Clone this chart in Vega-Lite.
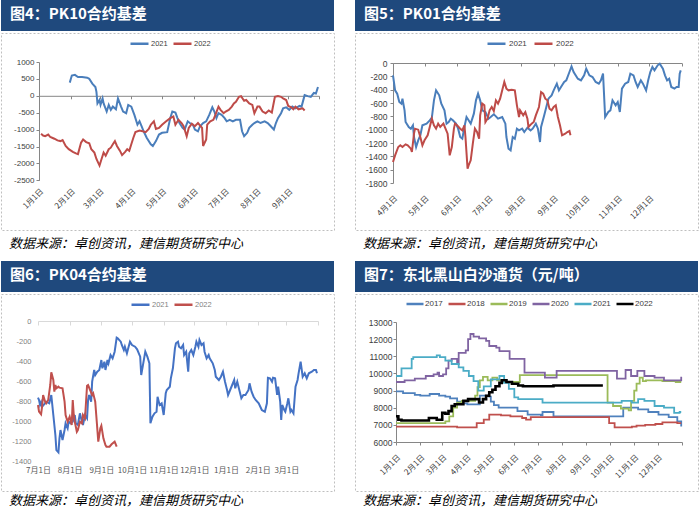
{
"$schema": "https://vega.github.io/schema/vega-lite/v6.json",
"padding": 0,
"background": "#FFFFFF",
"config": {"view": {"stroke": null}, "font": "Noto Sans CJK SC"},
"spacing": 9,
"resolve": {"scale": {"color": "independent"}, "legend": {"color": "independent"}},
"vconcat": [
{
"hconcat": [
{
"spacing": 1,
"resolve": {"scale": {"color": "independent"}, "legend": {"color": "independent"}},
"vconcat": [
{
"width": 333, "height": 31,
"view": {"stroke": null, "fill": "#1F497D"},
"data": {"values": [{"t": 1}]},
"mark": {"type": "rect", "color": "#1F497D"},
"encoding": {},
"title": {"text": "图4：PK10合约基差", "orient": "top", "anchor": "start", "frame": "group", "offset": -22, "dx": 9, "baseline": "top", "color": "#FFFFFF", "fontSize": 15, "fontWeight": "bold", "font": "Noto Sans CJK SC"}
},
{
"width": 333, "height": 197,
"view": {"stroke": "#BFBFBF", "strokeDash": [2, 2], "strokeWidth": 1},
"title": {"text": "数据来源：卓创资讯，建信期货研究中心", "orient": "bottom", "anchor": "start", "frame": "group", "offset": 8, "dx": 8, "baseline": "top", "fontSize": 13, "fontStyle": "italic", "fontWeight": "normal", "color": "#000000", "font": "Noto Sans CJK SC"},
"data": {"values": [
{"d":"2021-01-31","v":390,"s":"2021"},{"d":"2021-02-02","v":600,"s":"2021"},{"d":"2021-02-05","v":620,"s":"2021"},{"d":"2021-02-08","v":555,"s":"2021"},{"d":"2021-02-12","v":555,"s":"2021"},{"d":"2021-02-17","v":535,"s":"2021"},{"d":"2021-02-19","v":505,"s":"2021"},{"d":"2021-02-22","v":360,"s":"2021"},{"d":"2021-02-25","v":260,"s":"2021"},{"d":"2021-02-26","v":115,"s":"2021"},{"d":"2021-02-27","v":-225,"s":"2021"},{"d":"2021-03-01","v":-125,"s":"2021"},{"d":"2021-03-02","v":-270,"s":"2021"},{"d":"2021-03-04","v":-80,"s":"2021"},{"d":"2021-03-05","v":-225,"s":"2021"},{"d":"2021-03-08","v":-465,"s":"2021"},{"d":"2021-03-10","v":-270,"s":"2021"},{"d":"2021-03-12","v":-415,"s":"2021"},{"d":"2021-03-14","v":-320,"s":"2021"},{"d":"2021-03-17","v":-400,"s":"2021"},{"d":"2021-03-19","v":-80,"s":"2021"},{"d":"2021-03-22","v":-320,"s":"2021"},{"d":"2021-03-24","v":-465,"s":"2021"},{"d":"2021-03-27","v":-515,"s":"2021"},{"d":"2021-03-29","v":-270,"s":"2021"},{"d":"2021-04-01","v":-320,"s":"2021"},{"d":"2021-04-04","v":-565,"s":"2021"},{"d":"2021-04-07","v":-855,"s":"2021"},{"d":"2021-04-09","v":-755,"s":"2021"},{"d":"2021-04-11","v":-900,"s":"2021"},{"d":"2021-04-13","v":-1050,"s":"2021"},{"d":"2021-04-16","v":-1240,"s":"2021"},{"d":"2021-04-20","v":-1435,"s":"2021"},{"d":"2021-04-22","v":-1485,"s":"2021"},{"d":"2021-04-25","v":-1340,"s":"2021"},{"d":"2021-04-28","v":-1145,"s":"2021"},{"d":"2021-05-01","v":-1095,"s":"2021"},{"d":"2021-05-06","v":-1075,"s":"2021"},{"d":"2021-05-09","v":-660,"s":"2021"},{"d":"2021-05-11","v":-465,"s":"2021"},{"d":"2021-05-14","v":-495,"s":"2021"},{"d":"2021-05-16","v":-660,"s":"2021"},{"d":"2021-05-18","v":-805,"s":"2021"},{"d":"2021-05-21","v":-950,"s":"2021"},{"d":"2021-05-23","v":-1000,"s":"2021"},{"d":"2021-05-26","v":-755,"s":"2021"},{"d":"2021-05-28","v":-805,"s":"2021"},{"d":"2021-05-31","v":-855,"s":"2021"},{"d":"2021-06-02","v":-1000,"s":"2021"},{"d":"2021-06-05","v":-1050,"s":"2021"},{"d":"2021-06-07","v":-900,"s":"2021"},{"d":"2021-06-10","v":-805,"s":"2021"},{"d":"2021-06-13","v":-755,"s":"2021"},{"d":"2021-06-16","v":-565,"s":"2021"},{"d":"2021-06-19","v":-340,"s":"2021"},{"d":"2021-06-21","v":-465,"s":"2021"},{"d":"2021-06-23","v":-660,"s":"2021"},{"d":"2021-06-25","v":-515,"s":"2021"},{"d":"2021-06-28","v":-565,"s":"2021"},{"d":"2021-07-01","v":-660,"s":"2021"},{"d":"2021-07-03","v":-755,"s":"2021"},{"d":"2021-07-06","v":-710,"s":"2021"},{"d":"2021-07-09","v":-755,"s":"2021"},{"d":"2021-07-12","v":-710,"s":"2021"},{"d":"2021-07-16","v":-710,"s":"2021"},{"d":"2021-07-18","v":-1050,"s":"2021"},{"d":"2021-07-20","v":-1195,"s":"2021"},{"d":"2021-07-23","v":-1095,"s":"2021"},{"d":"2021-07-25","v":-950,"s":"2021"},{"d":"2021-07-28","v":-855,"s":"2021"},{"d":"2021-07-30","v":-805,"s":"2021"},{"d":"2021-08-02","v":-755,"s":"2021"},{"d":"2021-08-05","v":-805,"s":"2021"},{"d":"2021-08-09","v":-755,"s":"2021"},{"d":"2021-08-12","v":-805,"s":"2021"},{"d":"2021-08-15","v":-900,"s":"2021"},{"d":"2021-08-18","v":-1000,"s":"2021"},{"d":"2021-08-20","v":-805,"s":"2021"},{"d":"2021-08-22","v":-660,"s":"2021"},{"d":"2021-08-25","v":-515,"s":"2021"},{"d":"2021-08-27","v":-370,"s":"2021"},{"d":"2021-08-30","v":-340,"s":"2021"},{"d":"2021-09-02","v":-415,"s":"2021"},{"d":"2021-09-05","v":-320,"s":"2021"},{"d":"2021-09-08","v":-370,"s":"2021"},{"d":"2021-09-12","v":-300,"s":"2021"},{"d":"2021-09-14","v":-320,"s":"2021"},{"d":"2021-09-17","v":20,"s":"2021"},{"d":"2021-09-20","v":-10,"s":"2021"},{"d":"2021-09-23","v":-30,"s":"2021"},{"d":"2021-09-26","v":85,"s":"2021"},{"d":"2021-09-28","v":70,"s":"2021"},{"d":"2021-09-30","v":260,"s":"2021"},
{"d":"2021-01-03","v":-1125,"s":"2022"},{"d":"2021-01-05","v":-1175,"s":"2022"},{"d":"2021-01-07","v":-1195,"s":"2022"},{"d":"2021-01-10","v":-1145,"s":"2022"},{"d":"2021-01-12","v":-1220,"s":"2022"},{"d":"2021-01-16","v":-1270,"s":"2022"},{"d":"2021-01-19","v":-1320,"s":"2022"},{"d":"2021-01-22","v":-1340,"s":"2022"},{"d":"2021-01-24","v":-1310,"s":"2022"},{"d":"2021-01-27","v":-1485,"s":"2022"},{"d":"2021-01-30","v":-1580,"s":"2022"},{"d":"2021-02-03","v":-1660,"s":"2022"},{"d":"2021-02-06","v":-1705,"s":"2022"},{"d":"2021-02-08","v":-1725,"s":"2022"},{"d":"2021-02-11","v":-1385,"s":"2022"},{"d":"2021-02-13","v":-1290,"s":"2022"},{"d":"2021-02-16","v":-1370,"s":"2022"},{"d":"2021-02-19","v":-1405,"s":"2022"},{"d":"2021-02-21","v":-1580,"s":"2022"},{"d":"2021-02-24","v":-1680,"s":"2022"},{"d":"2021-02-26","v":-1870,"s":"2022"},{"d":"2021-03-01","v":-2065,"s":"2022"},{"d":"2021-03-03","v":-1870,"s":"2022"},{"d":"2021-03-05","v":-1680,"s":"2022"},{"d":"2021-03-07","v":-1775,"s":"2022"},{"d":"2021-03-10","v":-1580,"s":"2022"},{"d":"2021-03-12","v":-1535,"s":"2022"},{"d":"2021-03-14","v":-1435,"s":"2022"},{"d":"2021-03-16","v":-1340,"s":"2022"},{"d":"2021-03-18","v":-1485,"s":"2022"},{"d":"2021-03-21","v":-1630,"s":"2022"},{"d":"2021-03-23","v":-1755,"s":"2022"},{"d":"2021-03-26","v":-1660,"s":"2022"},{"d":"2021-03-28","v":-1580,"s":"2022"},{"d":"2021-03-30","v":-1630,"s":"2022"},{"d":"2021-04-01","v":-1435,"s":"2022"},{"d":"2021-04-03","v":-1240,"s":"2022"},{"d":"2021-04-05","v":-1075,"s":"2022"},{"d":"2021-04-09","v":-1030,"s":"2022"},{"d":"2021-04-12","v":-1050,"s":"2022"},{"d":"2021-04-15","v":-1075,"s":"2022"},{"d":"2021-04-18","v":-980,"s":"2022"},{"d":"2021-04-20","v":-855,"s":"2022"},{"d":"2021-04-23","v":-755,"s":"2022"},{"d":"2021-04-25","v":-980,"s":"2022"},{"d":"2021-04-28","v":-950,"s":"2022"},{"d":"2021-05-01","v":-855,"s":"2022"},{"d":"2021-05-05","v":-755,"s":"2022"},{"d":"2021-05-09","v":-660,"s":"2022"},{"d":"2021-05-12","v":-610,"s":"2022"},{"d":"2021-05-14","v":-855,"s":"2022"},{"d":"2021-05-17","v":-710,"s":"2022"},{"d":"2021-05-20","v":-805,"s":"2022"},{"d":"2021-05-22","v":-900,"s":"2022"},{"d":"2021-05-25","v":-1195,"s":"2022"},{"d":"2021-05-27","v":-950,"s":"2022"},{"d":"2021-05-30","v":-825,"s":"2022"},{"d":"2021-06-02","v":-900,"s":"2022"},{"d":"2021-06-05","v":-805,"s":"2022"},{"d":"2021-06-09","v":-950,"s":"2022"},{"d":"2021-06-10","v":-1485,"s":"2022"},{"d":"2021-06-13","v":-1290,"s":"2022"},{"d":"2021-06-14","v":-855,"s":"2022"},{"d":"2021-06-17","v":-755,"s":"2022"},{"d":"2021-06-20","v":-710,"s":"2022"},{"d":"2021-06-22","v":-565,"s":"2022"},{"d":"2021-06-25","v":-320,"s":"2022"},{"d":"2021-06-27","v":-415,"s":"2022"},{"d":"2021-06-30","v":-515,"s":"2022"},{"d":"2021-07-02","v":-465,"s":"2022"},{"d":"2021-07-05","v":-415,"s":"2022"},{"d":"2021-07-08","v":-320,"s":"2022"},{"d":"2021-07-10","v":-225,"s":"2022"},{"d":"2021-07-12","v":-175,"s":"2022"},{"d":"2021-07-15","v":-30,"s":"2022"},{"d":"2021-07-17","v":-10,"s":"2022"},{"d":"2021-07-20","v":-145,"s":"2022"},{"d":"2021-07-22","v":-125,"s":"2022"},{"d":"2021-07-25","v":-225,"s":"2022"},{"d":"2021-07-28","v":-270,"s":"2022"},{"d":"2021-07-30","v":-515,"s":"2022"},{"d":"2021-08-02","v":-320,"s":"2022"},{"d":"2021-08-04","v":-320,"s":"2022"},{"d":"2021-08-07","v":-465,"s":"2022"},{"d":"2021-08-10","v":-515,"s":"2022"},{"d":"2021-08-13","v":-435,"s":"2022"},{"d":"2021-08-16","v":-495,"s":"2022"},{"d":"2021-08-19","v":-30,"s":"2022"},{"d":"2021-08-22","v":-10,"s":"2022"},{"d":"2021-08-25","v":-30,"s":"2022"},{"d":"2021-08-27","v":-80,"s":"2022"},{"d":"2021-08-30","v":-125,"s":"2022"},{"d":"2021-09-01","v":-300,"s":"2022"},{"d":"2021-09-04","v":-340,"s":"2022"},{"d":"2021-09-06","v":-400,"s":"2022"},{"d":"2021-09-08","v":-320,"s":"2022"},{"d":"2021-09-11","v":-400,"s":"2022"},{"d":"2021-09-15","v":-370,"s":"2022"},{"d":"2021-09-17","v":-435,"s":"2022"}
]},
"mark": {"type": "line", "strokeWidth": 2},
"encoding": {
"x": {"field": "d", "type": "temporal",
 "scale": {"type": "utc", "nice": false, "domain": [{"year": 2021, "month": 1, "date": 1, "utc": true}, {"year": 2021, "month": 10, "date": 1, "utc": true}], "range": [38, 318]},
 "axis": {"orient": "bottom", "offset": -134.2, "title": null, "grid": false,
  "values": [{"year":2021,"month":1,"date":1,"utc":true},{"year":2021,"month":2,"date":1,"utc":true},{"year":2021,"month":3,"date":1,"utc":true},{"year":2021,"month":4,"date":1,"utc":true},{"year":2021,"month":5,"date":1,"utc":true},{"year":2021,"month":6,"date":1,"utc":true},{"year":2021,"month":7,"date":1,"utc":true},{"year":2021,"month":8,"date":1,"utc":true},{"year":2021,"month":9,"date":1,"utc":true},{"year":2021,"month":10,"date":1,"utc":true}],
  "labelExpr": "utcmonth(datum.value) == 9 ? '' : (utcmonth(datum.value) + 1) + '月' + utcdate(datum.value) + '日'",
  "labelAngle": -45, "labelAlign": "right", "labelBaseline": "middle", "labelPadding": 91, "labelOffset": 3,
  "labelFont": "Noto Sans CJK SC", "labelFontSize": 8, "labelColor": "#404040",
  "labelOverlap": false, "labelFlush": false, "labelBound": false,
  "domainColor": "#868686", "tickColor": "#868686", "tickSize": 3}},
"y": {"field": "v", "type": "quantitative",
 "scale": {"domain": [-2500, 1000], "range": [147.3, 29], "nice": false, "zero": false},
 "axis": {"orient": "left", "offset": -38, "title": null, "grid": false, "values": [1000, 500, 0, -500, -1000, -1500, -2000, -2500],
  "labelExpr": "'' + datum.value",
  "labelFont": "Liberation Sans", "labelFontSize": 8, "labelColor": "#404040", "labelPadding": 2,
  "domainColor": "#868686", "tickColor": "#868686", "tickSize": 3}},
"color": {"field": "s", "type": "nominal",
 "scale": {"domain": ["2021", "2022"], "range": ["#4A7EBB", "#BE4B48"]},
 "legend": {"orient": "none", "legendX": 128, "legendY": 0, "direction": "horizontal", "title": null,
  "labelFont": "Liberation Sans", "labelFontSize": 7.5, "labelColor": "#404040", "symbolType": "stroke", "symbolSize": 324, "symbolStrokeWidth": 2.5, "labelOffset": 1, "columnPadding": 0}}
}
}
]
},
{
"spacing": 1,
"resolve": {"scale": {"color": "independent"}, "legend": {"color": "independent"}},
"vconcat": [
{
"width": 343, "height": 31,
"view": {"stroke": null, "fill": "#1F497D"},
"data": {"values": [{"t": 1}]},
"mark": {"type": "rect", "color": "#1F497D"},
"encoding": {},
"title": {"text": "图5：PK01合约基差", "orient": "top", "anchor": "start", "frame": "group", "offset": -22, "dx": 9, "baseline": "top", "color": "#FFFFFF", "fontSize": 15, "fontWeight": "bold", "font": "Noto Sans CJK SC"}
},
{
"width": 343, "height": 197,
"view": {"stroke": "#BFBFBF", "strokeDash": [2, 2], "strokeWidth": 1},
"title": {"text": "数据来源：卓创资讯，建信期货研究中心", "orient": "bottom", "anchor": "start", "frame": "group", "offset": 8, "dx": 8, "baseline": "top", "fontSize": 13, "fontStyle": "italic", "fontWeight": "normal", "color": "#000000", "font": "Noto Sans CJK SC"},
"data": {"values": [
{"d":"2021-04-01","v":-185,"s":"2021"},{"d":"2021-04-03","v":-410,"s":"2021"},{"d":"2021-04-05","v":-460,"s":"2021"},{"d":"2021-04-07","v":-585,"s":"2021"},{"d":"2021-04-09","v":-610,"s":"2021"},{"d":"2021-04-10","v":-535,"s":"2021"},{"d":"2021-04-12","v":-710,"s":"2021"},{"d":"2021-04-13","v":-885,"s":"2021"},{"d":"2021-04-16","v":-960,"s":"2021"},{"d":"2021-04-18","v":-985,"s":"2021"},{"d":"2021-04-20","v":-935,"s":"2021"},{"d":"2021-04-21","v":-1110,"s":"2021"},{"d":"2021-04-23","v":-1260,"s":"2021"},{"d":"2021-04-25","v":-1160,"s":"2021"},{"d":"2021-04-27","v":-1085,"s":"2021"},{"d":"2021-04-29","v":-935,"s":"2021"},{"d":"2021-05-03","v":-910,"s":"2021"},{"d":"2021-05-06","v":-860,"s":"2021"},{"d":"2021-05-08","v":-820,"s":"2021"},{"d":"2021-05-10","v":-560,"s":"2021"},{"d":"2021-05-12","v":-410,"s":"2021"},{"d":"2021-05-15","v":-485,"s":"2021"},{"d":"2021-05-17","v":-610,"s":"2021"},{"d":"2021-05-20","v":-710,"s":"2021"},{"d":"2021-05-22","v":-910,"s":"2021"},{"d":"2021-05-24","v":-885,"s":"2021"},{"d":"2021-05-26","v":-835,"s":"2021"},{"d":"2021-05-28","v":-860,"s":"2021"},{"d":"2021-05-31","v":-910,"s":"2021"},{"d":"2021-06-02","v":-985,"s":"2021"},{"d":"2021-06-04","v":-1110,"s":"2021"},{"d":"2021-06-06","v":-1135,"s":"2021"},{"d":"2021-06-08","v":-960,"s":"2021"},{"d":"2021-06-10","v":-810,"s":"2021"},{"d":"2021-06-12","v":-860,"s":"2021"},{"d":"2021-06-14","v":-910,"s":"2021"},{"d":"2021-06-17","v":-760,"s":"2021"},{"d":"2021-06-19","v":-560,"s":"2021"},{"d":"2021-06-21","v":-460,"s":"2021"},{"d":"2021-06-23","v":-560,"s":"2021"},{"d":"2021-06-25","v":-710,"s":"2021"},{"d":"2021-06-28","v":-735,"s":"2021"},{"d":"2021-07-01","v":-835,"s":"2021"},{"d":"2021-07-03","v":-810,"s":"2021"},{"d":"2021-07-06","v":-770,"s":"2021"},{"d":"2021-07-08","v":-800,"s":"2021"},{"d":"2021-07-10","v":-835,"s":"2021"},{"d":"2021-07-14","v":-810,"s":"2021"},{"d":"2021-07-17","v":-910,"s":"2021"},{"d":"2021-07-18","v":-1110,"s":"2021"},{"d":"2021-07-20","v":-1285,"s":"2021"},{"d":"2021-07-22","v":-1310,"s":"2021"},{"d":"2021-07-24","v":-1110,"s":"2021"},{"d":"2021-07-26","v":-1135,"s":"2021"},{"d":"2021-07-28","v":-985,"s":"2021"},{"d":"2021-07-30","v":-1010,"s":"2021"},{"d":"2021-08-02","v":-985,"s":"2021"},{"d":"2021-08-04","v":-1035,"s":"2021"},{"d":"2021-08-07","v":-970,"s":"2021"},{"d":"2021-08-10","v":-1010,"s":"2021"},{"d":"2021-08-12","v":-985,"s":"2021"},{"d":"2021-08-15","v":-910,"s":"2021"},{"d":"2021-08-17","v":-985,"s":"2021"},{"d":"2021-08-19","v":-1185,"s":"2021"},{"d":"2021-08-20","v":-960,"s":"2021"},{"d":"2021-08-23","v":-785,"s":"2021"},{"d":"2021-08-25","v":-660,"s":"2021"},{"d":"2021-08-27","v":-535,"s":"2021"},{"d":"2021-08-30","v":-485,"s":"2021"},{"d":"2021-09-01","v":-410,"s":"2021"},{"d":"2021-09-04","v":-310,"s":"2021"},{"d":"2021-09-06","v":-410,"s":"2021"},{"d":"2021-09-09","v":-335,"s":"2021"},{"d":"2021-09-11","v":-285,"s":"2021"},{"d":"2021-09-13","v":-260,"s":"2021"},{"d":"2021-09-16","v":-135,"s":"2021"},{"d":"2021-09-18","v":-50,"s":"2021"},{"d":"2021-09-20","v":-135,"s":"2021"},{"d":"2021-09-24","v":-235,"s":"2021"},{"d":"2021-09-27","v":-260,"s":"2021"},{"d":"2021-09-30","v":-185,"s":"2021"},{"d":"2021-10-02","v":-85,"s":"2021"},{"d":"2021-10-05","v":-185,"s":"2021"},{"d":"2021-10-08","v":-210,"s":"2021"},{"d":"2021-10-11","v":-285,"s":"2021"},{"d":"2021-10-14","v":-310,"s":"2021"},{"d":"2021-10-16","v":-260,"s":"2021"},{"d":"2021-10-18","v":-160,"s":"2021"},{"d":"2021-10-20","v":-810,"s":"2021"},{"d":"2021-10-23","v":-735,"s":"2021"},{"d":"2021-10-25","v":-710,"s":"2021"},{"d":"2021-10-27","v":-560,"s":"2021"},{"d":"2021-10-30","v":-635,"s":"2021"},{"d":"2021-11-01","v":-585,"s":"2021"},{"d":"2021-11-03","v":-735,"s":"2021"},{"d":"2021-11-05","v":-385,"s":"2021"},{"d":"2021-11-08","v":-310,"s":"2021"},{"d":"2021-11-11","v":-285,"s":"2021"},{"d":"2021-11-13","v":-160,"s":"2021"},{"d":"2021-11-16","v":-185,"s":"2021"},{"d":"2021-11-18","v":-285,"s":"2021"},{"d":"2021-11-20","v":-360,"s":"2021"},{"d":"2021-11-23","v":-260,"s":"2021"},{"d":"2021-11-25","v":-310,"s":"2021"},{"d":"2021-11-28","v":-410,"s":"2021"},{"d":"2021-11-30","v":-260,"s":"2021"},{"d":"2021-12-02","v":-135,"s":"2021"},{"d":"2021-12-04","v":-60,"s":"2021"},{"d":"2021-12-06","v":-110,"s":"2021"},{"d":"2021-12-09","v":-35,"s":"2021"},{"d":"2021-12-11","v":-10,"s":"2021"},{"d":"2021-12-14","v":-85,"s":"2021"},{"d":"2021-12-16","v":-185,"s":"2021"},{"d":"2021-12-18","v":-260,"s":"2021"},{"d":"2021-12-20","v":-235,"s":"2021"},{"d":"2021-12-22","v":-360,"s":"2021"},{"d":"2021-12-25","v":-385,"s":"2021"},{"d":"2021-12-27","v":-360,"s":"2021"},{"d":"2021-12-29","v":-360,"s":"2021"},{"d":"2021-12-30","v":-160,"s":"2021"},{"d":"2021-12-31","v":-110,"s":"2021"},
{"d":"2021-04-01","v":-1485,"s":"2022"},{"d":"2021-04-03","v":-1385,"s":"2022"},{"d":"2021-04-06","v":-1260,"s":"2022"},{"d":"2021-04-08","v":-1235,"s":"2022"},{"d":"2021-04-10","v":-1260,"s":"2022"},{"d":"2021-04-13","v":-1220,"s":"2022"},{"d":"2021-04-15","v":-1235,"s":"2022"},{"d":"2021-04-18","v":-1285,"s":"2022"},{"d":"2021-04-19","v":-1335,"s":"2022"},{"d":"2021-04-21","v":-1060,"s":"2022"},{"d":"2021-04-22","v":-985,"s":"2022"},{"d":"2021-04-25","v":-1000,"s":"2022"},{"d":"2021-04-27","v":-1110,"s":"2022"},{"d":"2021-04-29","v":-1235,"s":"2022"},{"d":"2021-05-01","v":-1160,"s":"2022"},{"d":"2021-05-04","v":-1085,"s":"2022"},{"d":"2021-05-06","v":-960,"s":"2022"},{"d":"2021-05-08","v":-835,"s":"2022"},{"d":"2021-05-10","v":-935,"s":"2022"},{"d":"2021-05-12","v":-985,"s":"2022"},{"d":"2021-05-14","v":-910,"s":"2022"},{"d":"2021-05-16","v":-960,"s":"2022"},{"d":"2021-05-19","v":-910,"s":"2022"},{"d":"2021-05-21","v":-985,"s":"2022"},{"d":"2021-05-23","v":-1060,"s":"2022"},{"d":"2021-05-25","v":-1385,"s":"2022"},{"d":"2021-05-27","v":-1260,"s":"2022"},{"d":"2021-05-29","v":-985,"s":"2022"},{"d":"2021-05-30","v":-910,"s":"2022"},{"d":"2021-06-01","v":-935,"s":"2022"},{"d":"2021-06-04","v":-985,"s":"2022"},{"d":"2021-06-06","v":-1010,"s":"2022"},{"d":"2021-06-08","v":-935,"s":"2022"},{"d":"2021-06-09","v":-1110,"s":"2022"},{"d":"2021-06-11","v":-1585,"s":"2022"},{"d":"2021-06-12","v":-1535,"s":"2022"},{"d":"2021-06-14","v":-1460,"s":"2022"},{"d":"2021-06-16","v":-1210,"s":"2022"},{"d":"2021-06-18","v":-985,"s":"2022"},{"d":"2021-06-20","v":-1035,"s":"2022"},{"d":"2021-06-22","v":-1135,"s":"2022"},{"d":"2021-06-23","v":-785,"s":"2022"},{"d":"2021-06-25","v":-610,"s":"2022"},{"d":"2021-06-27","v":-635,"s":"2022"},{"d":"2021-06-28","v":-885,"s":"2022"},{"d":"2021-06-30","v":-835,"s":"2022"},{"d":"2021-07-02","v":-710,"s":"2022"},{"d":"2021-07-04","v":-660,"s":"2022"},{"d":"2021-07-06","v":-720,"s":"2022"},{"d":"2021-07-08","v":-560,"s":"2022"},{"d":"2021-07-10","v":-610,"s":"2022"},{"d":"2021-07-12","v":-535,"s":"2022"},{"d":"2021-07-14","v":-410,"s":"2022"},{"d":"2021-07-16","v":-285,"s":"2022"},{"d":"2021-07-18","v":-385,"s":"2022"},{"d":"2021-07-20","v":-410,"s":"2022"},{"d":"2021-07-23","v":-400,"s":"2022"},{"d":"2021-07-26","v":-410,"s":"2022"},{"d":"2021-07-28","v":-635,"s":"2022"},{"d":"2021-07-30","v":-810,"s":"2022"},{"d":"2021-07-31","v":-710,"s":"2022"},{"d":"2021-08-03","v":-785,"s":"2022"},{"d":"2021-08-05","v":-735,"s":"2022"},{"d":"2021-08-07","v":-835,"s":"2022"},{"d":"2021-08-08","v":-960,"s":"2022"},{"d":"2021-08-11","v":-910,"s":"2022"},{"d":"2021-08-13","v":-885,"s":"2022"},{"d":"2021-08-15","v":-785,"s":"2022"},{"d":"2021-08-18","v":-660,"s":"2022"},{"d":"2021-08-20","v":-435,"s":"2022"},{"d":"2021-08-22","v":-460,"s":"2022"},{"d":"2021-08-24","v":-535,"s":"2022"},{"d":"2021-08-26","v":-560,"s":"2022"},{"d":"2021-08-28","v":-685,"s":"2022"},{"d":"2021-08-30","v":-710,"s":"2022"},{"d":"2021-09-01","v":-660,"s":"2022"},{"d":"2021-09-03","v":-635,"s":"2022"},{"d":"2021-09-05","v":-810,"s":"2022"},{"d":"2021-09-07","v":-935,"s":"2022"},{"d":"2021-09-09","v":-1085,"s":"2022"},{"d":"2021-09-12","v":-1060,"s":"2022"},{"d":"2021-09-14","v":-1035,"s":"2022"},{"d":"2021-09-16","v":-1020,"s":"2022"},{"d":"2021-09-17","v":-1085,"s":"2022"}
]},
"mark": {"type": "line", "strokeWidth": 2},
"encoding": {
"x": {"field": "d", "type": "temporal",
 "scale": {"type": "utc", "nice": false, "domain": [{"year": 2021, "month": 4, "date": 1, "utc": true}, {"year": 2022, "month": 1, "date": 1, "utc": true}], "range": [38, 326.8]},
 "axis": {"orient": "bottom", "offset": -167, "title": null, "grid": false,
  "values": [{"year":2021,"month":4,"date":1,"utc":true},{"year":2021,"month":5,"date":1,"utc":true},{"year":2021,"month":6,"date":1,"utc":true},{"year":2021,"month":7,"date":1,"utc":true},{"year":2021,"month":8,"date":1,"utc":true},{"year":2021,"month":9,"date":1,"utc":true},{"year":2021,"month":10,"date":1,"utc":true},{"year":2021,"month":11,"date":1,"utc":true},{"year":2021,"month":12,"date":1,"utc":true},{"year":2022,"month":1,"date":1,"utc":true}],
  "labelExpr": "utcmonth(datum.value) == 0 ? '' : (utcmonth(datum.value) + 1) + '月' + utcdate(datum.value) + '日'",
  "labelAngle": -45, "labelAlign": "right", "labelBaseline": "middle", "labelPadding": 131, "labelOffset": 3,
  "labelFont": "Noto Sans CJK SC", "labelFontSize": 8, "labelColor": "#404040",
  "labelOverlap": false, "labelFlush": false, "labelBound": false,
  "domainColor": "#868686", "tickColor": "#868686", "tickSize": 3}},
"y": {"field": "v", "type": "quantitative",
 "scale": {"domain": [-1800, 0], "range": [150, 30], "nice": false, "zero": false},
 "axis": {"orient": "left", "offset": -38, "title": null, "grid": false, "values": [0, -200, -400, -600, -800, -1000, -1200, -1400, -1600, -1800],
  "labelExpr": "'' + datum.value",
  "labelFont": "Liberation Sans", "labelFontSize": 8.5, "labelColor": "#404040", "labelPadding": 3,
  "domainColor": "#868686", "tickColor": "#868686", "tickSize": 3}},
"color": {"field": "s", "type": "nominal",
 "scale": {"domain": ["2021", "2022"], "range": ["#4A7EBB", "#BE4B48"]},
 "legend": {"orient": "none", "legendX": 131, "legendY": 0, "direction": "horizontal", "title": null,
  "labelFont": "Liberation Sans", "labelFontSize": 8, "labelColor": "#404040", "symbolType": "stroke", "symbolSize": 324, "symbolStrokeWidth": 2.5, "labelOffset": 2, "columnPadding": 2}}
}
}
]
}
],
"spacing": 19,
"align": "none",
"resolve": {"scale": {"color": "independent"}, "legend": {"color": "independent"}}
},
{
"hconcat": [
{
"spacing": 1,
"resolve": {"scale": {"color": "independent"}, "legend": {"color": "independent"}},
"vconcat": [
{
"width": 333, "height": 31,
"view": {"stroke": null, "fill": "#1F497D"},
"data": {"values": [{"t": 1}]},
"mark": {"type": "rect", "color": "#1F497D"},
"encoding": {},
"title": {"text": "图6：PK04合约基差", "orient": "top", "anchor": "start", "frame": "group", "offset": -22, "dx": 9, "baseline": "top", "color": "#FFFFFF", "fontSize": 15, "fontWeight": "bold", "font": "Noto Sans CJK SC"}
},
{
"width": 333, "height": 197,
"view": {"stroke": "#BFBFBF", "strokeDash": [2, 2], "strokeWidth": 1},
"title": {"text": "数据来源：卓创资讯，建信期货研究中心", "orient": "bottom", "anchor": "start", "frame": "group", "offset": 4, "dx": 8, "baseline": "top", "fontSize": 13, "fontStyle": "italic", "fontWeight": "normal", "color": "#000000", "font": "Noto Sans CJK SC"},
"data": {"values": [
{"d":"2021-07-01","v":-767,"s":"2021"},{"d":"2021-07-02","v":-790,"s":"2021"},{"d":"2021-07-03","v":-840,"s":"2021"},{"d":"2021-07-04","v":-813,"s":"2021"},{"d":"2021-07-05","v":-857,"s":"2021"},{"d":"2021-07-07","v":-833,"s":"2021"},{"d":"2021-07-09","v":-807,"s":"2021"},{"d":"2021-07-12","v":-823,"s":"2021"},{"d":"2021-07-14","v":-740,"s":"2021"},{"d":"2021-07-16","v":-940,"s":"2021"},{"d":"2021-07-18","v":-1140,"s":"2021"},{"d":"2021-07-19","v":-1290,"s":"2021"},{"d":"2021-07-21","v":-1313,"s":"2021"},{"d":"2021-07-22","v":-1173,"s":"2021"},{"d":"2021-07-23","v":-1090,"s":"2021"},{"d":"2021-07-25","v":-1190,"s":"2021"},{"d":"2021-07-27","v":-1090,"s":"2021"},{"d":"2021-07-28","v":-1023,"s":"2021"},{"d":"2021-07-30","v":-1073,"s":"2021"},{"d":"2021-07-31","v":-1007,"s":"2021"},{"d":"2021-08-02","v":-1023,"s":"2021"},{"d":"2021-08-04","v":-1007,"s":"2021"},{"d":"2021-08-06","v":-940,"s":"2021"},{"d":"2021-08-07","v":-1023,"s":"2021"},{"d":"2021-08-09","v":-1040,"s":"2021"},{"d":"2021-08-11","v":-923,"s":"2021"},{"d":"2021-08-13","v":-1007,"s":"2021"},{"d":"2021-08-14","v":-1040,"s":"2021"},{"d":"2021-08-16","v":-940,"s":"2021"},{"d":"2021-08-18","v":-973,"s":"2021"},{"d":"2021-08-19","v":-790,"s":"2021"},{"d":"2021-08-20","v":-740,"s":"2021"},{"d":"2021-08-22","v":-807,"s":"2021"},{"d":"2021-08-23","v":-607,"s":"2021"},{"d":"2021-08-25","v":-490,"s":"2021"},{"d":"2021-08-26","v":-540,"s":"2021"},{"d":"2021-08-28","v":-507,"s":"2021"},{"d":"2021-08-30","v":-490,"s":"2021"},{"d":"2021-09-01","v":-390,"s":"2021"},{"d":"2021-09-02","v":-473,"s":"2021"},{"d":"2021-09-04","v":-407,"s":"2021"},{"d":"2021-09-05","v":-490,"s":"2021"},{"d":"2021-09-07","v":-390,"s":"2021"},{"d":"2021-09-08","v":-423,"s":"2021"},{"d":"2021-09-10","v":-340,"s":"2021"},{"d":"2021-09-12","v":-373,"s":"2021"},{"d":"2021-09-14","v":-307,"s":"2021"},{"d":"2021-09-16","v":-167,"s":"2021"},{"d":"2021-09-17","v":-173,"s":"2021"},{"d":"2021-09-20","v":-207,"s":"2021"},{"d":"2021-09-21","v":-240,"s":"2021"},{"d":"2021-09-23","v":-290,"s":"2021"},{"d":"2021-09-24","v":-257,"s":"2021"},{"d":"2021-09-26","v":-323,"s":"2021"},{"d":"2021-09-29","v":-207,"s":"2021"},{"d":"2021-10-01","v":-240,"s":"2021"},{"d":"2021-10-04","v":-257,"s":"2021"},{"d":"2021-10-06","v":-283,"s":"2021"},{"d":"2021-10-09","v":-357,"s":"2021"},{"d":"2021-10-10","v":-540,"s":"2021"},{"d":"2021-10-12","v":-423,"s":"2021"},{"d":"2021-10-14","v":-307,"s":"2021"},{"d":"2021-10-16","v":-357,"s":"2021"},{"d":"2021-10-18","v":-423,"s":"2021"},{"d":"2021-10-19","v":-1023,"s":"2021"},{"d":"2021-10-21","v":-957,"s":"2021"},{"d":"2021-10-23","v":-923,"s":"2021"},{"d":"2021-10-25","v":-907,"s":"2021"},{"d":"2021-10-26","v":-757,"s":"2021"},{"d":"2021-10-28","v":-840,"s":"2021"},{"d":"2021-10-30","v":-823,"s":"2021"},{"d":"2021-11-01","v":-940,"s":"2021"},{"d":"2021-11-03","v":-723,"s":"2021"},{"d":"2021-11-04","v":-690,"s":"2021"},{"d":"2021-11-07","v":-657,"s":"2021"},{"d":"2021-11-08","v":-573,"s":"2021"},{"d":"2021-11-10","v":-473,"s":"2021"},{"d":"2021-11-12","v":-273,"s":"2021"},{"d":"2021-11-13","v":-223,"s":"2021"},{"d":"2021-11-15","v":-207,"s":"2021"},{"d":"2021-11-16","v":-257,"s":"2021"},{"d":"2021-11-18","v":-273,"s":"2021"},{"d":"2021-11-20","v":-240,"s":"2021"},{"d":"2021-11-21","v":-340,"s":"2021"},{"d":"2021-11-23","v":-307,"s":"2021"},{"d":"2021-11-25","v":-507,"s":"2021"},{"d":"2021-11-26","v":-323,"s":"2021"},{"d":"2021-11-28","v":-290,"s":"2021"},{"d":"2021-11-30","v":-340,"s":"2021"},{"d":"2021-12-02","v":-257,"s":"2021"},{"d":"2021-12-03","v":-207,"s":"2021"},{"d":"2021-12-05","v":-257,"s":"2021"},{"d":"2021-12-06","v":-190,"s":"2021"},{"d":"2021-12-08","v":-240,"s":"2021"},{"d":"2021-12-10","v":-223,"s":"2021"},{"d":"2021-12-11","v":-307,"s":"2021"},{"d":"2021-12-13","v":-373,"s":"2021"},{"d":"2021-12-15","v":-340,"s":"2021"},{"d":"2021-12-16","v":-373,"s":"2021"},{"d":"2021-12-19","v":-423,"s":"2021"},{"d":"2021-12-21","v":-490,"s":"2021"},{"d":"2021-12-22","v":-557,"s":"2021"},{"d":"2021-12-25","v":-590,"s":"2021"},{"d":"2021-12-27","v":-557,"s":"2021"},{"d":"2021-12-29","v":-507,"s":"2021"},{"d":"2021-12-31","v":-607,"s":"2021"},{"d":"2022-01-02","v":-690,"s":"2021"},{"d":"2022-01-03","v":-740,"s":"2021"},{"d":"2022-01-05","v":-690,"s":"2021"},{"d":"2022-01-07","v":-640,"s":"2021"},{"d":"2022-01-09","v":-590,"s":"2021"},{"d":"2022-01-10","v":-673,"s":"2021"},{"d":"2022-01-12","v":-607,"s":"2021"},{"d":"2022-01-14","v":-690,"s":"2021"},{"d":"2022-01-16","v":-773,"s":"2021"},{"d":"2022-01-18","v":-740,"s":"2021"},{"d":"2022-01-20","v":-740,"s":"2021"},{"d":"2022-01-23","v":-690,"s":"2021"},{"d":"2022-01-24","v":-623,"s":"2021"},{"d":"2022-01-26","v":-707,"s":"2021"},{"d":"2022-01-28","v":-757,"s":"2021"},{"d":"2022-01-30","v":-790,"s":"2021"},{"d":"2022-02-02","v":-823,"s":"2021"},{"d":"2022-02-05","v":-890,"s":"2021"},{"d":"2022-02-08","v":-907,"s":"2021"},{"d":"2022-02-10","v":-823,"s":"2021"},{"d":"2022-02-11","v":-567,"s":"2021"},{"d":"2022-02-13","v":-573,"s":"2021"},{"d":"2022-02-15","v":-607,"s":"2021"},{"d":"2022-02-16","v":-567,"s":"2021"},{"d":"2022-02-18","v":-573,"s":"2021"},{"d":"2022-02-20","v":-740,"s":"2021"},{"d":"2022-02-21","v":-657,"s":"2021"},{"d":"2022-02-23","v":-807,"s":"2021"},{"d":"2022-02-24","v":-990,"s":"2021"},{"d":"2022-02-25","v":-840,"s":"2021"},{"d":"2022-02-27","v":-890,"s":"2021"},{"d":"2022-02-28","v":-907,"s":"2021"},{"d":"2022-03-02","v":-823,"s":"2021"},{"d":"2022-03-03","v":-773,"s":"2021"},{"d":"2022-03-05","v":-907,"s":"2021"},{"d":"2022-03-06","v":-890,"s":"2021"},{"d":"2022-03-08","v":-923,"s":"2021"},{"d":"2022-03-09","v":-790,"s":"2021"},{"d":"2022-03-10","v":-657,"s":"2021"},{"d":"2022-03-12","v":-590,"s":"2021"},{"d":"2022-03-13","v":-523,"s":"2021"},{"d":"2022-03-15","v":-407,"s":"2021"},{"d":"2022-03-17","v":-557,"s":"2021"},{"d":"2022-03-19","v":-523,"s":"2021"},{"d":"2022-03-21","v":-573,"s":"2021"},{"d":"2022-03-23","v":-523,"s":"2021"},{"d":"2022-03-26","v":-507,"s":"2021"},{"d":"2022-03-28","v":-490,"s":"2021"},{"d":"2022-03-30","v":-490,"s":"2021"},{"d":"2022-03-31","v":-523,"s":"2021"},
{"d":"2021-07-01","v":-840,"s":"2022"},{"d":"2021-07-02","v":-907,"s":"2022"},{"d":"2021-07-04","v":-933,"s":"2022"},{"d":"2021-07-05","v":-857,"s":"2022"},{"d":"2021-07-06","v":-740,"s":"2022"},{"d":"2021-07-08","v":-807,"s":"2022"},{"d":"2021-07-09","v":-823,"s":"2022"},{"d":"2021-07-11","v":-790,"s":"2022"},{"d":"2021-07-13","v":-640,"s":"2022"},{"d":"2021-07-14","v":-513,"s":"2022"},{"d":"2021-07-16","v":-590,"s":"2022"},{"d":"2021-07-17","v":-707,"s":"2022"},{"d":"2021-07-18","v":-640,"s":"2022"},{"d":"2021-07-19","v":-673,"s":"2022"},{"d":"2021-07-21","v":-657,"s":"2022"},{"d":"2021-07-22","v":-667,"s":"2022"},{"d":"2021-07-25","v":-673,"s":"2022"},{"d":"2021-07-27","v":-807,"s":"2022"},{"d":"2021-07-28","v":-940,"s":"2022"},{"d":"2021-07-30","v":-1007,"s":"2022"},{"d":"2021-08-01","v":-957,"s":"2022"},{"d":"2021-08-03","v":-1040,"s":"2022"},{"d":"2021-08-04","v":-790,"s":"2022"},{"d":"2021-08-05","v":-940,"s":"2022"},{"d":"2021-08-06","v":-1007,"s":"2022"},{"d":"2021-08-08","v":-1107,"s":"2022"},{"d":"2021-08-09","v":-1090,"s":"2022"},{"d":"2021-08-11","v":-1007,"s":"2022"},{"d":"2021-08-13","v":-1023,"s":"2022"},{"d":"2021-08-14","v":-940,"s":"2022"},{"d":"2021-08-16","v":-973,"s":"2022"},{"d":"2021-08-18","v":-647,"s":"2022"},{"d":"2021-08-19","v":-640,"s":"2022"},{"d":"2021-08-21","v":-690,"s":"2022"},{"d":"2021-08-23","v":-740,"s":"2022"},{"d":"2021-08-24","v":-723,"s":"2022"},{"d":"2021-08-26","v":-807,"s":"2022"},{"d":"2021-08-27","v":-940,"s":"2022"},{"d":"2021-08-29","v":-1207,"s":"2022"},{"d":"2021-08-31","v":-1073,"s":"2022"},{"d":"2021-09-01","v":-1047,"s":"2022"},{"d":"2021-09-03","v":-1173,"s":"2022"},{"d":"2021-09-05","v":-1240,"s":"2022"},{"d":"2021-09-06","v":-1257,"s":"2022"},{"d":"2021-09-09","v":-1257,"s":"2022"},{"d":"2021-09-11","v":-1233,"s":"2022"},{"d":"2021-09-14","v":-1207,"s":"2022"},{"d":"2021-09-16","v":-1257,"s":"2022"}
]},
"mark": {"type": "line", "strokeWidth": 2},
"encoding": {
"x": {"field": "d", "type": "temporal",
 "scale": {"type": "utc", "nice": false, "domain": [{"year": 2021, "month": 7, "date": 1, "utc": true}, {"year": 2022, "month": 4, "date": 1, "utc": true}], "range": [37, 317]},
 "axis": {"orient": "bottom", "offset": -170, "title": null, "grid": false,
  "values": [{"year":2021,"month":7,"date":1,"utc":true},{"year":2021,"month":8,"date":1,"utc":true},{"year":2021,"month":9,"date":1,"utc":true},{"year":2021,"month":10,"date":1,"utc":true},{"year":2021,"month":11,"date":1,"utc":true},{"year":2021,"month":12,"date":1,"utc":true},{"year":2022,"month":1,"date":1,"utc":true},{"year":2022,"month":2,"date":1,"utc":true},{"year":2022,"month":3,"date":1,"utc":true},{"year":2022,"month":4,"date":1,"utc":true}],
  "labelExpr": "utcmonth(datum.value) == 3 ? '' : (utcmonth(datum.value) + 1) + '月' + utcdate(datum.value) + '日'",
  "labelAngle": 0, "labelAlign": "center", "labelBaseline": "top", "labelPadding": 141,
  "labelFont": "Noto Sans CJK SC", "labelFontSize": 8, "labelColor": "#595959",
  "labelOverlap": false, "labelFlush": false, "labelBound": false,
  "domainColor": "#D9D9D9", "tickColor": "#D9D9D9", "tickSize": 4}},
"y": {"field": "v", "type": "quantitative",
 "scale": {"domain": [-1400, 0], "range": [167, 27], "nice": false, "zero": false},
 "axis": {"orient": "left", "offset": -37, "title": null, "grid": false, "domain": false, "ticks": false, "values": [0, -200, -400, -600, -800, -1000, -1200, -1400],
  "labelExpr": "'' + datum.value",
  "labelFont": "Liberation Sans", "labelFontSize": 7.5, "labelColor": "#7F7F7F", "labelPadding": 7}},
"color": {"field": "s", "type": "nominal",
 "scale": {"domain": ["2021", "2022"], "range": ["#4472C4", "#C0504D"]},
 "legend": {"orient": "none", "legendX": 129, "legendY": 0, "direction": "horizontal", "title": null,
  "labelFont": "Liberation Sans", "labelFontSize": 7.5, "labelColor": "#7F7F7F", "symbolType": "stroke", "symbolSize": 324, "symbolStrokeWidth": 2.5, "labelOffset": 1, "columnPadding": 0}}
}
}
]
},
{
"spacing": 1,
"resolve": {"scale": {"color": "independent"}, "legend": {"color": "independent"}},
"vconcat": [
{
"width": 343, "height": 31,
"view": {"stroke": null, "fill": "#1F497D"},
"data": {"values": [{"t": 1}]},
"mark": {"type": "rect", "color": "#1F497D"},
"encoding": {},
"title": {"text": "图7：东北黑山白沙通货（元/吨）", "orient": "top", "anchor": "start", "frame": "group", "offset": -22, "dx": 9, "baseline": "top", "color": "#FFFFFF", "fontSize": 15, "fontWeight": "bold", "font": "Noto Sans CJK SC"}
},
{
"width": 343, "height": 197,
"view": {"stroke": "#BFBFBF", "strokeDash": [2, 2], "strokeWidth": 1},
"title": {"text": "数据来源：卓创资讯，建信期货研究中心", "orient": "bottom", "anchor": "start", "frame": "group", "offset": 4, "dx": 8, "baseline": "top", "fontSize": 13, "fontStyle": "italic", "fontWeight": "normal", "color": "#000000", "font": "Noto Sans CJK SC"},
"data": {"values": [
{"d":"2021-01-01","v":8950,"s":"2017"},{"d":"2021-01-10","v":8850,"s":"2017"},{"d":"2021-01-25","v":8750,"s":"2017"},{"d":"2021-02-01","v":8700,"s":"2017"},{"d":"2021-02-13","v":8800,"s":"2017"},{"d":"2021-02-25","v":8700,"s":"2017"},{"d":"2021-03-05","v":8650,"s":"2017"},{"d":"2021-03-11","v":8550,"s":"2017"},{"d":"2021-03-20","v":8350,"s":"2017"},{"d":"2021-03-26","v":8250,"s":"2017"},{"d":"2021-04-02","v":8200,"s":"2017"},{"d":"2021-04-18","v":8700,"s":"2017"},{"d":"2021-04-30","v":8650,"s":"2017"},{"d":"2021-05-02","v":8350,"s":"2017"},{"d":"2021-05-06","v":8150,"s":"2017"},{"d":"2021-05-12","v":8000,"s":"2017"},{"d":"2021-06-05","v":7800,"s":"2017"},{"d":"2021-06-18","v":7600,"s":"2017"},{"d":"2021-07-05","v":7550,"s":"2017"},{"d":"2021-07-07","v":7750,"s":"2017"},{"d":"2021-07-21","v":7500,"s":"2017"},{"d":"2021-10-18","v":8000,"s":"2017"},{"d":"2021-11-06","v":7900,"s":"2017"},{"d":"2021-11-19","v":7750,"s":"2017"},{"d":"2021-12-02","v":7600,"s":"2017"},{"d":"2021-12-15","v":7450,"s":"2017"},{"d":"2021-12-26","v":7200,"s":"2017"},{"d":"2021-12-31","v":6900,"s":"2017"},
{"d":"2021-01-01","v":6900,"s":"2018"},{"d":"2021-03-20","v":6850,"s":"2018"},{"d":"2021-04-14","v":7100,"s":"2018"},{"d":"2021-04-23","v":7300,"s":"2018"},{"d":"2021-04-30","v":7600,"s":"2018"},{"d":"2021-05-15","v":7550,"s":"2018"},{"d":"2021-05-27","v":7500,"s":"2018"},{"d":"2021-06-11","v":7400,"s":"2018"},{"d":"2021-06-16","v":7300,"s":"2018"},{"d":"2021-06-22","v":7450,"s":"2018"},{"d":"2021-09-30","v":7100,"s":"2018"},{"d":"2021-10-07","v":6850,"s":"2018"},{"d":"2021-10-29","v":6900,"s":"2018"},{"d":"2021-11-04","v":6950,"s":"2018"},{"d":"2021-11-15","v":7000,"s":"2018"},{"d":"2021-11-28","v":7050,"s":"2018"},{"d":"2021-12-07","v":7150,"s":"2018"},{"d":"2021-12-26","v":7100,"s":"2018"},{"d":"2021-12-31","v":7100,"s":"2018"},
{"d":"2021-01-01","v":7100,"s":"2019"},{"d":"2021-03-05","v":7200,"s":"2019"},{"d":"2021-03-10","v":7500,"s":"2019"},{"d":"2021-03-15","v":8000,"s":"2019"},{"d":"2021-03-20","v":8300,"s":"2019"},{"d":"2021-03-26","v":8400,"s":"2019"},{"d":"2021-04-12","v":8700,"s":"2019"},{"d":"2021-04-15","v":9200,"s":"2019"},{"d":"2021-04-18","v":9600,"s":"2019"},{"d":"2021-04-22","v":9800,"s":"2019"},{"d":"2021-04-28","v":9600,"s":"2019"},{"d":"2021-05-04","v":9750,"s":"2019"},{"d":"2021-05-10","v":9600,"s":"2019"},{"d":"2021-05-17","v":9500,"s":"2019"},{"d":"2021-06-08","v":9900,"s":"2019"},{"d":"2021-09-28","v":8300,"s":"2019"},{"d":"2021-10-05","v":8100,"s":"2019"},{"d":"2021-10-15","v":7950,"s":"2019"},{"d":"2021-10-25","v":7850,"s":"2019"},{"d":"2021-10-28","v":8400,"s":"2019"},{"d":"2021-11-01","v":9000,"s":"2019"},{"d":"2021-11-04","v":9400,"s":"2019"},{"d":"2021-11-08","v":9750,"s":"2019"},{"d":"2021-11-12","v":9550,"s":"2019"},{"d":"2021-11-16","v":9600,"s":"2019"},{"d":"2021-12-07","v":9550,"s":"2019"},{"d":"2021-12-24","v":9500,"s":"2019"},{"d":"2021-12-31","v":9500,"s":"2019"},
{"d":"2021-01-01","v":9500,"s":"2020"},{"d":"2021-01-12","v":9600,"s":"2020"},{"d":"2021-01-25","v":9700,"s":"2020"},{"d":"2021-02-08","v":9850,"s":"2020"},{"d":"2021-02-18","v":9950,"s":"2020"},{"d":"2021-02-23","v":10050,"s":"2020"},{"d":"2021-02-25","v":9850,"s":"2020"},{"d":"2021-03-02","v":9950,"s":"2020"},{"d":"2021-03-06","v":10300,"s":"2020"},{"d":"2021-03-09","v":10750,"s":"2020"},{"d":"2021-03-13","v":10850,"s":"2020"},{"d":"2021-03-20","v":10550,"s":"2020"},{"d":"2021-03-22","v":11200,"s":"2020"},{"d":"2021-03-31","v":11350,"s":"2020"},{"d":"2021-04-03","v":12000,"s":"2020"},{"d":"2021-04-06","v":12300,"s":"2020"},{"d":"2021-04-10","v":12150,"s":"2020"},{"d":"2021-04-17","v":12050,"s":"2020"},{"d":"2021-04-26","v":11900,"s":"2020"},{"d":"2021-04-30","v":11600,"s":"2020"},{"d":"2021-05-09","v":11500,"s":"2020"},{"d":"2021-05-13","v":11300,"s":"2020"},{"d":"2021-05-26","v":10850,"s":"2020"},{"d":"2021-06-14","v":10050,"s":"2020"},{"d":"2021-07-10","v":9750,"s":"2020"},{"d":"2021-07-25","v":10150,"s":"2020"},{"d":"2021-10-10","v":9700,"s":"2020"},{"d":"2021-10-21","v":10200,"s":"2020"},{"d":"2021-10-28","v":9850,"s":"2020"},{"d":"2021-11-05","v":10150,"s":"2020"},{"d":"2021-11-14","v":9850,"s":"2020"},{"d":"2021-11-27","v":9750,"s":"2020"},{"d":"2021-12-09","v":9600,"s":"2020"},{"d":"2021-12-30","v":9600,"s":"2020"},{"d":"2021-12-31","v":9800,"s":"2020"},
{"d":"2021-01-01","v":9850,"s":"2021"},{"d":"2021-01-08","v":10300,"s":"2021"},{"d":"2021-01-21","v":10850,"s":"2021"},{"d":"2021-01-23","v":10950,"s":"2021"},{"d":"2021-02-22","v":11050,"s":"2021"},{"d":"2021-02-26","v":10950,"s":"2021"},{"d":"2021-03-05","v":10750,"s":"2021"},{"d":"2021-03-13","v":10550,"s":"2021"},{"d":"2021-03-22","v":10350,"s":"2021"},{"d":"2021-03-28","v":10150,"s":"2021"},{"d":"2021-04-04","v":9850,"s":"2021"},{"d":"2021-04-10","v":9550,"s":"2021"},{"d":"2021-04-16","v":9000,"s":"2021"},{"d":"2021-04-23","v":9250,"s":"2021"},{"d":"2021-05-02","v":9650,"s":"2021"},{"d":"2021-05-13","v":9850,"s":"2021"},{"d":"2021-05-19","v":9450,"s":"2021"},{"d":"2021-05-25","v":9100,"s":"2021"},{"d":"2021-06-01","v":8600,"s":"2021"},{"d":"2021-06-06","v":8500,"s":"2021"},{"d":"2021-07-07","v":8300,"s":"2021"},{"d":"2021-10-16","v":8400,"s":"2021"},{"d":"2021-10-29","v":8300,"s":"2021"},{"d":"2021-11-06","v":8500,"s":"2021"},{"d":"2021-11-14","v":8400,"s":"2021"},{"d":"2021-11-27","v":8100,"s":"2021"},{"d":"2021-12-09","v":8000,"s":"2021"},{"d":"2021-12-22","v":7700,"s":"2021"},{"d":"2021-12-29","v":7750,"s":"2021"},{"d":"2021-12-31","v":7750,"s":"2021"},
{"d":"2021-01-01","v":7500,"s":"2022"},{"d":"2021-01-04","v":7300,"s":"2022"},{"d":"2021-01-08","v":7250,"s":"2022"},{"d":"2021-02-12","v":7400,"s":"2022"},{"d":"2021-02-22","v":7300,"s":"2022"},{"d":"2021-03-01","v":7700,"s":"2022"},{"d":"2021-03-05","v":7650,"s":"2022"},{"d":"2021-03-09","v":7800,"s":"2022"},{"d":"2021-03-13","v":8100,"s":"2022"},{"d":"2021-03-17","v":8200,"s":"2022"},{"d":"2021-03-28","v":8400,"s":"2022"},{"d":"2021-04-03","v":8500,"s":"2022"},{"d":"2021-04-17","v":8300,"s":"2022"},{"d":"2021-04-22","v":8500,"s":"2022"},{"d":"2021-04-26","v":8700,"s":"2022"},{"d":"2021-04-30","v":8900,"s":"2022"},{"d":"2021-05-04","v":9050,"s":"2022"},{"d":"2021-05-08","v":9250,"s":"2022"},{"d":"2021-05-13","v":9450,"s":"2022"},{"d":"2021-05-16","v":9600,"s":"2022"},{"d":"2021-05-22","v":9500,"s":"2022"},{"d":"2021-05-29","v":9400,"s":"2022"},{"d":"2021-06-06","v":9300,"s":"2022"},{"d":"2021-06-12","v":9250,"s":"2022"},{"d":"2021-07-21","v":9300,"s":"2022"},{"d":"2021-09-22","v":9300,"s":"2022"}
]},
"encoding": {
"x": {"field": "d", "type": "temporal",
 "scale": {"type": "utc", "nice": false, "domain": [{"year": 2021, "month": 1, "date": 1, "utc": true}, {"year": 2022, "month": 1, "date": 1, "utc": true}], "range": [41, 327]},
 "axis": {"orient": "bottom", "offset": -49, "title": null, "grid": false,
  "values": [{"year":2021,"month":1,"date":1,"utc":true},{"year":2021,"month":2,"date":1,"utc":true},{"year":2021,"month":3,"date":1,"utc":true},{"year":2021,"month":4,"date":1,"utc":true},{"year":2021,"month":5,"date":1,"utc":true},{"year":2021,"month":6,"date":1,"utc":true},{"year":2021,"month":7,"date":1,"utc":true},{"year":2021,"month":8,"date":1,"utc":true},{"year":2021,"month":9,"date":1,"utc":true},{"year":2021,"month":10,"date":1,"utc":true},{"year":2021,"month":11,"date":1,"utc":true},{"year":2021,"month":12,"date":1,"utc":true},{"year":2022,"month":1,"date":1,"utc":true}],
  "labelExpr": "utcyear(datum.value) == 2022 ? '' : (utcmonth(datum.value) + 1) + '月' + utcdate(datum.value) + '日'",
  "labelAngle": -45, "labelAlign": "right", "labelBaseline": "middle", "labelPadding": 11, "labelOffset": 3,
  "labelFont": "Noto Sans CJK SC", "labelFontSize": 8, "labelColor": "#404040",
  "labelOverlap": false, "labelFlush": false, "labelBound": false,
  "domainColor": "#868686", "tickColor": "#868686", "tickSize": 3}},
"y": {"field": "v", "type": "quantitative",
 "scale": {"domain": [6000, 13000], "range": [148, 28], "nice": false, "zero": false},
 "axis": {"orient": "left", "offset": -41, "title": null, "grid": false, "values": [6000, 7000, 8000, 9000, 10000, 11000, 12000, 13000],
  "labelExpr": "'' + datum.value",
  "labelFont": "Liberation Sans", "labelFontSize": 8.5, "labelColor": "#404040", "labelPadding": 1,
  "domainColor": "#868686", "tickColor": "#868686", "tickSize": 3}},
"color": {"field": "s", "type": "nominal",
 "scale": {"domain": ["2017", "2018", "2019", "2020", "2021", "2022"], "range": ["#4F81BD", "#C0504D", "#9BBB59", "#8064A2", "#4BACC6", "#000000"]},
 "legend": {"orient": "none", "legendX": 50, "legendY": 0, "direction": "horizontal", "title": null,
  "labelFont": "Liberation Sans", "labelFontSize": 8, "labelColor": "#404040", "symbolType": "stroke", "symbolSize": 289, "symbolStrokeWidth": 2.5, "labelOffset": 0, "columnPadding": 0}}
},
"layer": [
{"transform": [{"filter": "datum.s != '2022'"}], "mark": {"type": "line", "interpolate": "step-after", "strokeWidth": 1.8}},
{"transform": [{"filter": "datum.s == '2022'"}], "mark": {"type": "line", "interpolate": "step-after", "strokeWidth": 2.6}}
]
}
]
}
],
"spacing": 19,
"align": "none",
"resolve": {"scale": {"color": "independent"}, "legend": {"color": "independent"}}
}
]
}
